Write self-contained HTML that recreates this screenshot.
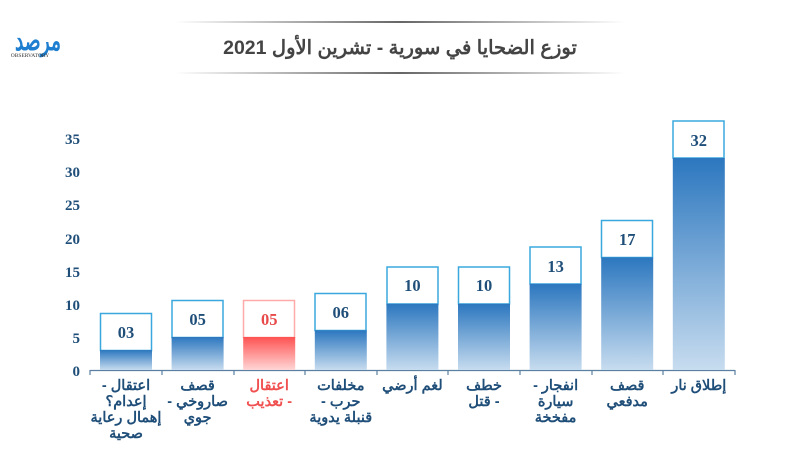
<!DOCTYPE html>
<html><head><meta charset="utf-8"><style>
body{margin:0;background:#fff;width:800px;height:450px;overflow:hidden}
svg{display:block}
.ar{font-family:"Liberation Sans","Noto Sans CJK SC",sans-serif;font-weight:bold}
.num{font-family:"Liberation Serif",serif;font-weight:bold}
</style></head><body>
<svg width="800" height="450" viewBox="0 0 800 450" xmlns="http://www.w3.org/2000/svg">
<defs>
<linearGradient id="b" x1="0" y1="0" x2="0" y2="1"><stop offset="0" stop-color="#2c77bf"/><stop offset="1" stop-color="#c7dcef"/></linearGradient>
<linearGradient id="r" x1="0" y1="0" x2="0" y2="1"><stop offset="0" stop-color="#ff5252"/><stop offset="1" stop-color="#ffd6d6"/></linearGradient>
<linearGradient id="ln" x1="0" y1="0" x2="1" y2="0"><stop offset="0" stop-color="#fff"/><stop offset="0.5" stop-color="#666"/><stop offset="1" stop-color="#fff"/></linearGradient>
</defs>
<rect x="175" y="21" width="450" height="2" fill="url(#ln)"/>
<rect x="175" y="72" width="450" height="2" fill="url(#ln)"/>
<text x="400" y="54" text-anchor="middle" class="ar" font-size="19.5" fill="#444" direction="rtl">توزع الضحايا في سورية - تشرين الأول 2021</text>
<text x="38" y="50" text-anchor="middle" class="ar" font-size="28" fill="#1e7fd0" direction="rtl" textLength="46" lengthAdjust="spacingAndGlyphs">مرصد</text>
<text x="30" y="57" text-anchor="middle" font-family="Liberation Serif" font-size="5.5" fill="#333">OBSERVATORY</text>
<g class="num" font-size="15" fill="#1f4e79" text-anchor="end">
<text x="80" y="376">0</text><text x="80" y="343">5</text><text x="80" y="310">10</text><text x="80" y="277">15</text><text x="80" y="244">20</text><text x="80" y="210">25</text><text x="80" y="177">30</text><text x="80" y="144">35</text>
</g>
<g stroke="#5a7fa0" stroke-width="1.2">
<line x1="90" y1="370.5" x2="735" y2="370.5"/>
<line x1="90" y1="370" x2="90" y2="375"/><line x1="162" y1="370" x2="162" y2="375"/><line x1="234" y1="370" x2="234" y2="375"/><line x1="305" y1="370" x2="305" y2="375"/><line x1="377" y1="370" x2="377" y2="375"/><line x1="448" y1="370" x2="448" y2="375"/><line x1="520" y1="370" x2="520" y2="375"/><line x1="592" y1="370" x2="592" y2="375"/><line x1="663" y1="370" x2="663" y2="375"/><line x1="735" y1="370" x2="735" y2="375"/>
</g>
<g stroke="#3aa8de" stroke-width="1.5" fill="#fff">
<rect x="100.5" y="313.5" width="51" height="37"/>
<rect x="172" y="300.5" width="51" height="37"/>
<rect x="315" y="293.5" width="51" height="37"/>
<rect x="387" y="267" width="51" height="37"/>
<rect x="458.5" y="267" width="51" height="37"/>
<rect x="530" y="247" width="51" height="37"/>
<rect x="601.5" y="220.5" width="51" height="37"/>
<rect x="673" y="121" width="51" height="37"/>
</g>
<rect x="243.5" y="300.5" width="51" height="37" fill="#fff" stroke="#ffaaaa" stroke-width="1.5"/>
<g fill="url(#b)">
<rect x="100" y="350" width="52" height="20"/>
<rect x="171.6" y="337" width="52" height="33"/>
<rect x="314.8" y="330.3" width="52" height="39.7"/>
<rect x="386.4" y="303.8" width="52" height="66.2"/>
<rect x="458" y="303.8" width="52" height="66.2"/>
<rect x="529.6" y="283.9" width="52" height="86.1"/>
<rect x="601.2" y="257.4" width="52" height="112.6"/>
<rect x="672.8" y="158" width="52" height="212"/>
</g>
<rect x="243.2" y="337" width="52" height="33" fill="url(#r)"/>
<g class="num" font-size="16.5" fill="#1f4e79" text-anchor="middle">
<text x="126" y="338">03</text>
<text x="197.6" y="325">05</text>
<text x="269.2" y="325" fill="#e84a4a">05</text>
<text x="340.8" y="318">06</text>
<text x="412.4" y="291">10</text>
<text x="484" y="291">10</text>
<text x="555.6" y="272">13</text>
<text x="627.2" y="245">17</text>
<text x="698.8" y="146">32</text>
</g>
<g class="ar" font-size="14.5" fill="#1f4e79" text-anchor="middle" direction="rtl">
<text x="126" y="390">اعتقال -</text><text x="126" y="406">إعدام؟</text><text x="126" y="422">إهمال رعاية</text><text x="126" y="438">صحية</text>
<text x="197.6" y="390">قصف</text><text x="197.6" y="406">صاروخي -</text><text x="197.6" y="422">جوي</text>
<text x="269.2" y="390" fill="#f05050">اعتقال</text><text x="269.2" y="406" fill="#f05050">- تعذيب</text>
<text x="340.8" y="390">مخلفات</text><text x="340.8" y="406">حرب -</text><text x="340.8" y="422">قنبلة يدوية</text>
<text x="412.4" y="390">لغم أرضي</text>
<text x="484" y="390">خطف</text><text x="484" y="406">- قتل</text>
<text x="555.6" y="390">انفجار -</text><text x="555.6" y="406">سيارة</text><text x="555.6" y="422">مفخخة</text>
<text x="627.2" y="390">قصف</text><text x="627.2" y="406">مدفعي</text>
<text x="698.8" y="390">إطلاق نار</text>
</g>
</svg>
</body></html>
